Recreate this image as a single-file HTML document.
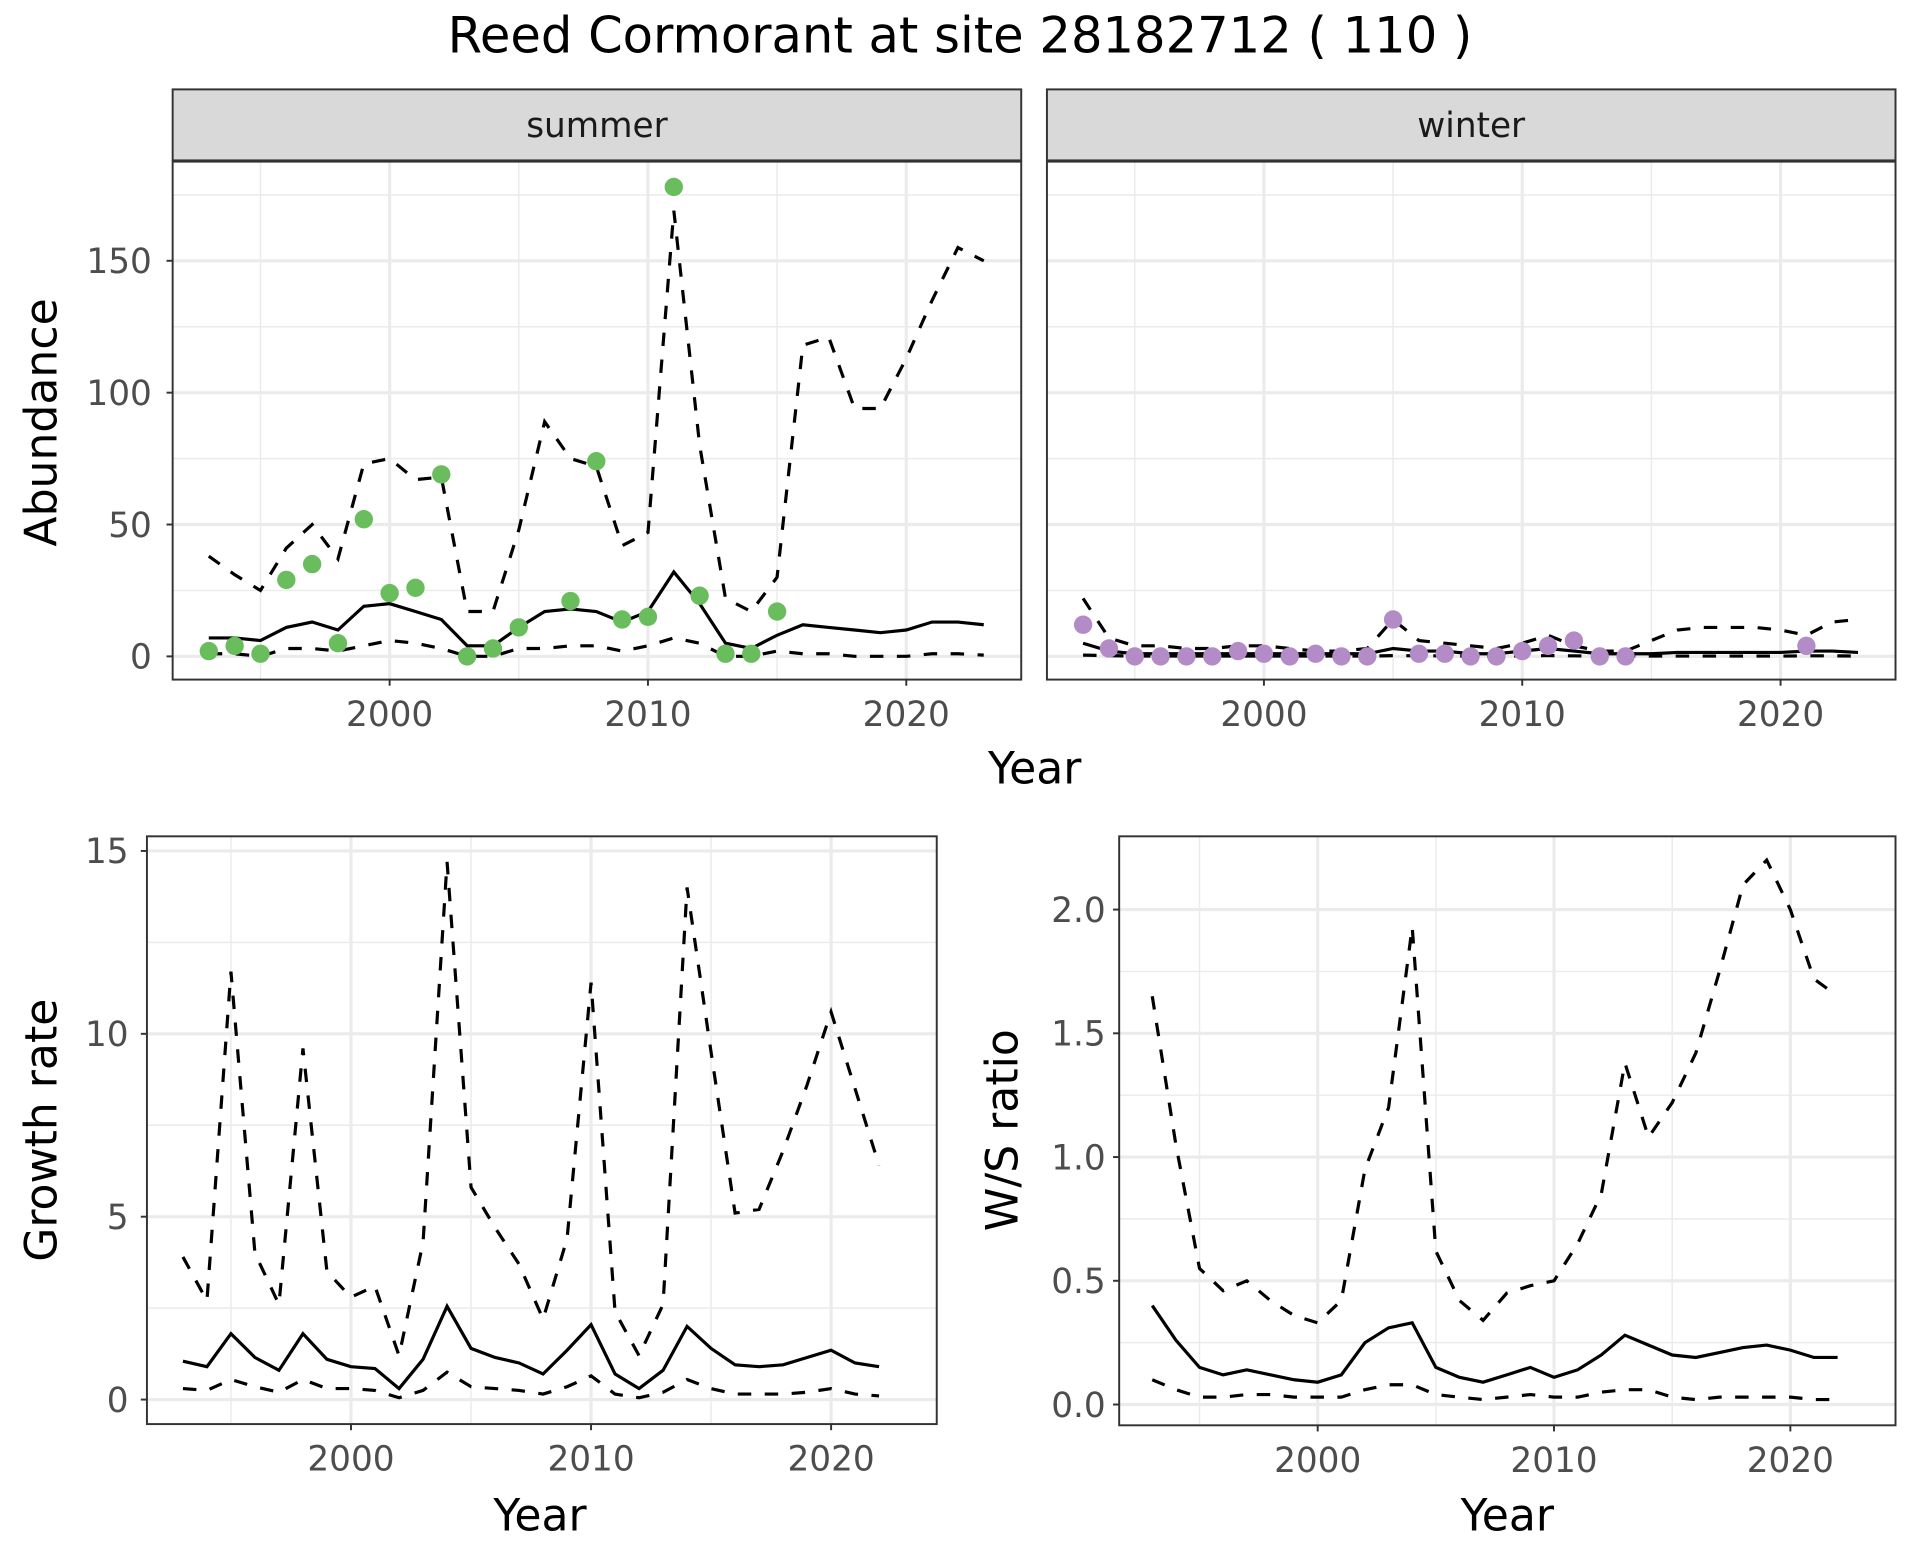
<!DOCTYPE html>
<html><head><meta charset="utf-8"><style>
html,body{margin:0;padding:0;background:#fff}
svg{display:block}
text{font-family:"DejaVu Sans","Liberation Sans",sans-serif}
</style></head><body>
<svg id="chart" width="1920" height="1560" viewBox="0 0 1568 1274" xmlns="http://www.w3.org/2000/svg">
<rect x="0" y="0" width="1568" height="1274" fill="#fff"/>
<text x="784" y="43" font-size="40.5" text-anchor="middle" fill="#000">Reed Cormorant at site 28182712 ( 110 )</text>
</svg>
<script>
const years = [1993,1994,1995,1996,1997,1998,1999,2000,2001,2002,2003,2004,2005,2006,2007,2008,2009,2010,2011,2012,2013,2014,2015,2016,2017,2018,2019,2020,2021,2022,2023];
const summerMean = [7,7,6,11,13,10,19,20,17,14,4,4,11,17,18,17,13,17,32,20,5,3,8,12,11,10,9,10,13,13,12];
const summerUpper = [38,31,25,41,50,37,73,75,67,68,17,17,48,89,75,72,42,47,169,80,22,17,30,118,121,94,94,113,135,155,150];
const summerLower = [1,1,0,3,3,2,4,6,5,3,0,0,3,3,4,4,2,4,7,5,0,0,2,1,1,0,0,0,1,1,0.5];
const summerObsYears = [1993,1994,1995,1996,1997,1998,1999,2000,2001,2002,2003,2004,2005,2007,2008,2009,2010,2011,2012,2013,2014,2015];
const summerObs = [2,4,1,29,35,5,52,24,26,69,0,3,11,21,74,14,15,178,23,1,1,17];
const winterMean = [5,2,1,1,1,1,1,1,1,1,1,1,3,2,2,1,1,2,3,2,1,1,1,1.5,1.5,1.5,1.5,1.5,2,2,1.5];
const winterUpper = [22,7,4,4,3,3,4,4,3,2,2,3,14,6,5,4,3,5,8,4,2,2,6,10,11,11,11,10,8,13,14];
const winterLower = [0.5,0.3,0.1,0.1,0.1,0.1,0.1,0.1,0.1,0.1,0.1,0.1,0.3,0.2,0.2,0.1,0.1,0.2,0.3,0.2,0.1,0.1,0.1,0.1,0.1,0.1,0.1,0.1,0.2,0.2,0.1];
const winterObsYears = [1993,1994,1995,1996,1997,1998,1999,2000,2001,2002,2003,2004,2005,2006,2007,2008,2009,2010,2011,2012,2013,2014,2021];
const winterObs = [12,3,0,0,0,0,2,1,0,1,0,0,14,1,1,0,0,2,4,6,0,0,4];
const yearsB = [1993,1994,1995,1996,1997,1998,1999,2000,2001,2002,2003,2004,2005,2006,2007,2008,2009,2010,2011,2012,2013,2014,2015,2016,2017,2018,2019,2020,2021,2022];
const growthMean = [1.05,0.9,1.8,1.15,0.8,1.8,1.1,0.9,0.85,0.3,1.1,2.55,1.4,1.15,1.0,0.7,1.35,2.05,0.7,0.3,0.8,2.0,1.4,0.95,0.9,0.95,1.15,1.35,1.0,0.9];
const growthUpper = [3.9,2.7,11.7,4.0,2.6,9.6,3.5,2.8,3.1,1.2,4.3,14.7,5.8,4.7,3.7,2.2,4.4,11.4,2.4,1.2,2.6,14.0,9.5,5.1,5.2,6.8,8.6,10.6,8.5,6.4];
const growthLower = [0.3,0.25,0.55,0.35,0.2,0.55,0.3,0.3,0.25,0.05,0.25,0.75,0.35,0.3,0.25,0.15,0.35,0.65,0.15,0.05,0.2,0.55,0.3,0.15,0.15,0.15,0.2,0.3,0.15,0.1];
const ratioMean = [0.4,0.26,0.15,0.12,0.14,0.12,0.1,0.09,0.12,0.25,0.31,0.33,0.15,0.11,0.09,0.12,0.15,0.11,0.14,0.2,0.28,0.24,0.2,0.19,0.21,0.23,0.24,0.22,0.19,0.19];
const ratioUpper = [1.65,1.05,0.55,0.46,0.5,0.42,0.36,0.33,0.42,0.95,1.2,1.93,0.62,0.42,0.34,0.45,0.48,0.5,0.65,0.85,1.38,1.08,1.22,1.42,1.75,2.1,2.2,2.0,1.72,1.65];
const ratioLower = [0.1,0.06,0.03,0.03,0.04,0.04,0.03,0.03,0.03,0.06,0.08,0.08,0.04,0.03,0.02,0.03,0.04,0.03,0.03,0.05,0.06,0.06,0.03,0.02,0.03,0.03,0.03,0.03,0.02,0.02];
const xTicks = [2000,2010,2020];
const xMinor = [1995,2005,2015];
const abundTicks = [0,50,100,150];
const abundMinor = [25,75,125,175];
const growthTicks = [0,5,10,15];
const growthMinor = [2.5,7.5,12.5];
const ratioTicks = [0.0,0.5,1.0,1.5,2.0];
const ratioTickLabels = ["0.0","0.5","1.0","1.5","2.0"];
const ratioMinor = [0.25,0.75,1.25,1.75];

const svg = document.getElementById('chart');
const NS = 'http://www.w3.org/2000/svg';
function mk(tag, attrs, parent){const e=document.createElementNS(NS,tag);for(const k in attrs)e.setAttribute(k,attrs[k]);(parent||svg).appendChild(e);return e;}
const TICK = 28;

function panel(p){
  const g = mk('g',{});
  
  
  const sx = v => p.x0 + (v - p.xmin)/(p.xmax - p.xmin)*(p.x1 - p.x0);
  const sy = v => p.y1 - (v - p.ymin)/(p.ymax - p.ymin)*(p.y1 - p.y0);
  mk('rect',{x:p.x0,y:p.y0,width:p.x1-p.x0,height:p.y1-p.y0,fill:'#fff'},g);
  p.yMinor.forEach(v=>mk('line',{x1:p.x0,x2:p.x1,y1:sy(v),y2:sy(v),stroke:'#ebebeb','stroke-width':1.2},g));
  xMinor.forEach(v=>mk('line',{y1:p.y0,y2:p.y1,x1:sx(v),x2:sx(v),stroke:'#ebebeb','stroke-width':1.2},g));
  p.yTicks.forEach(v=>mk('line',{x1:p.x0,x2:p.x1,y1:sy(v),y2:sy(v),stroke:'#ebebeb','stroke-width':2.6},g));
  xTicks.forEach(v=>mk('line',{y1:p.y0,y2:p.y1,x1:sx(v),x2:sx(v),stroke:'#ebebeb','stroke-width':2.6},g));
  const line=(ys,yv,dash,nm)=>{
    const d = ys.map((y,i)=>(i?'L':'M')+sx(y).toFixed(1)+','+sy(yv[i]).toFixed(1)).join(' ');
    const el = mk('path',{d:d,fill:'none',stroke:'#000','stroke-width':2.6,'stroke-dasharray':dash||'none'},g);
    
    
  };
  line(p.xs,p.upper,'11,11',p.name+'-upper-line');
  line(p.xs,p.lower,'11,11',p.name+'-lower-line');
  line(p.xs,p.mean,null,p.name+'-mean-line');
  if(p.obs){
    p.obsX.forEach((y,i)=>{
      const c = mk('circle',{cx:sx(y),cy:sy(p.obs[i]),r:7.5,fill:p.color},g);
      
      
    });
  }
  mk('rect',{x:p.x0,y:p.y0,width:p.x1-p.x0,height:p.y1-p.y0,fill:'none',stroke:'#333','stroke-width':1.6},g);
  if(p.yLabels){
    p.yTicks.forEach((v,i)=>{
      mk('line',{x1:p.x0-5,x2:p.x0,y1:sy(v),y2:sy(v),stroke:'#333','stroke-width':1.6},g);
      const t = mk('text',{x:p.x0-p.yGap,y:sy(v)+10,'font-size':TICK,'text-anchor':'end',fill:'#4d4d4d'},g);
      t.textContent = p.yLabels[i];
      
      
    });
  }
  xTicks.forEach(v=>{
    mk('line',{x1:sx(v),x2:sx(v),y1:p.y1,y2:p.y1+5,stroke:'#333','stroke-width':1.6},g);
    const t = mk('text',{x:sx(v),y:p.y1+38,'font-size':TICK,'text-anchor':'middle',fill:'#4d4d4d'},g);
    t.textContent = v;
    
    
  });
  if(p.strip){
    mk('rect',{x:p.x0,y:73,width:p.x1-p.x0,height:58,fill:'#d9d9d9',stroke:'#333','stroke-width':1.6},g);
    const t = mk('text',{x:(p.x0+p.x1)/2,y:112,'font-size':TICK,'text-anchor':'middle',fill:'#1a1a1a'},g);
    t.textContent = p.strip;
    
    
  }
}
function label(txt,x,y,rot,nm){
  const t = mk('text',{x:x,y:y,'font-size':36,'text-anchor':'middle',fill:'#000',transform:rot?`rotate(-90 ${x} ${y})`:''});
  t.textContent = txt;
  
  
}
panel({name:'summer-panel',yGap:17,x0:141,x1:834,y0:132,y1:555,xmin:1991.6,xmax:2024.45,ymin:-8.8,ymax:187.6,xs:years,mean:summerMean,upper:summerUpper,lower:summerLower,obs:summerObs,obsX:summerObsYears,color:'#6abd5c',yTicks:abundTicks,yMinor:abundMinor,yLabels:abundTicks.map(String),strip:'summer'});
panel({name:'winter-panel',yGap:17,x0:855,x1:1548,y0:132,y1:555,xmin:1991.6,xmax:2024.45,ymin:-8.8,ymax:187.6,xs:years,mean:winterMean,upper:winterUpper,lower:winterLower,obs:winterObs,obsX:winterObsYears,color:'#b38bc6',yTicks:abundTicks,yMinor:abundMinor,yLabels:null,strip:'winter'});
panel({name:'growth-panel',yGap:15,x0:120,x1:765,y0:683,y1:1163,xmin:1991.5,xmax:2024.4,ymin:-0.67,ymax:15.4,xs:yearsB,mean:growthMean,upper:growthUpper,lower:growthLower,yTicks:growthTicks,yMinor:growthMinor,yLabels:growthTicks.map(String)});
panel({name:'ratio-panel',yGap:11,x0:914,x1:1548,y0:683,y1:1164,xmin:1991.6,xmax:2024.45,ymin:-0.084,ymax:2.296,xs:yearsB,mean:ratioMean,upper:ratioUpper,lower:ratioLower,yTicks:ratioTicks,yMinor:ratioMinor,yLabels:ratioTickLabels});
label('Year',845,640,false,'x-axis-title-top');
label('Abundance',46,345,true,'y-axis-title-abundance');
label('Year',441,1250,false,'x-axis-title-growth');
label('Growth rate',46,923,true,'y-axis-title-growth');
label('Year',1231,1250,false,'x-axis-title-ratio');
label('W/S ratio',831,923,true,'y-axis-title-ratio');
</script>
</body></html>
